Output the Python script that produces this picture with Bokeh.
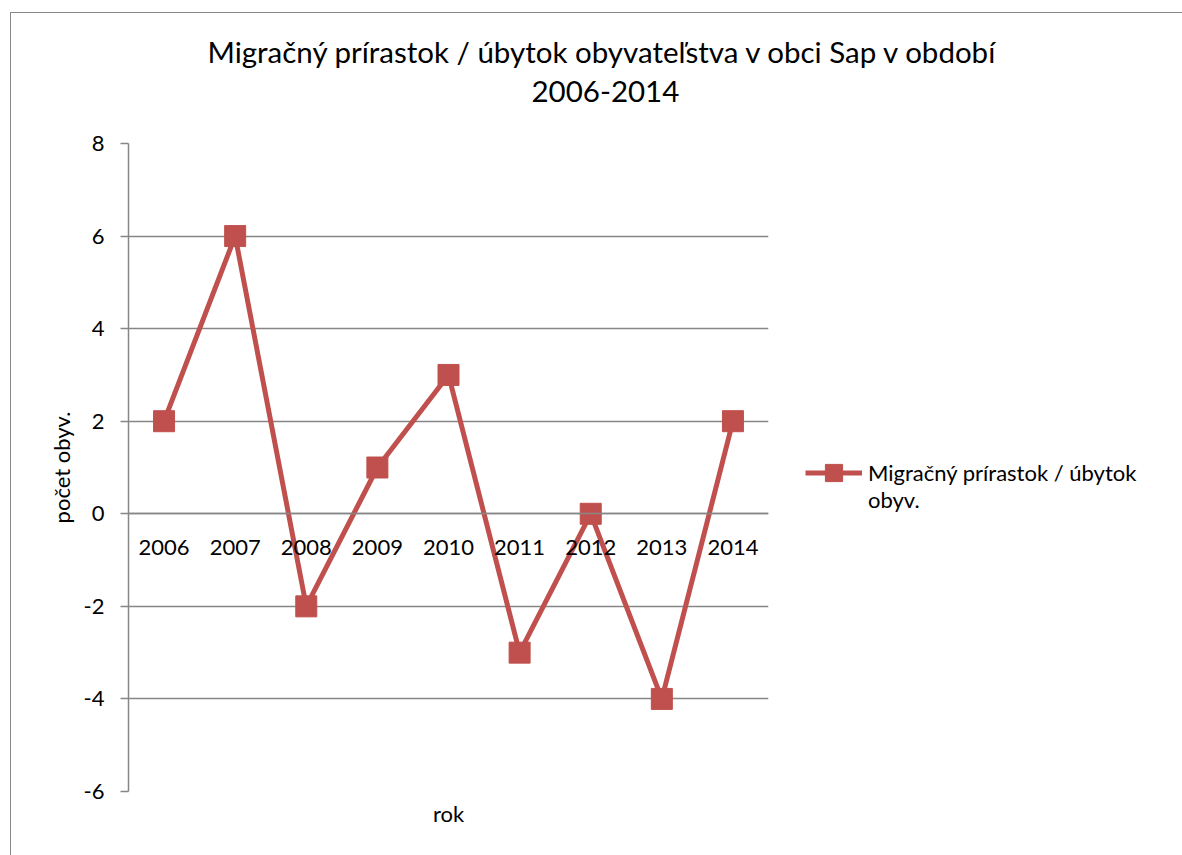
from bokeh.plotting import figure
from bokeh.models import (Range1d, FactorRange, FixedTicker, Title, Legend, LegendItem,
                          CategoricalAxis, InlineStyleSheet)
from bokeh.embed import file_html
from bokeh.resources import INLINE

# ---- data ----
years = ["2006", "2007", "2008", "2009", "2010", "2011", "2012", "2013", "2014"]
migration = [2, 6, -2, 1, 3, -3, 0, -4, 2]
y_ticks = [-6, -4, -2, 0, 2, 4, 6, 8]
title_line1 = "Migračný prírastok / úbytok obyvateľstva v obci Sap v období"
title_line2 = "2006-2014"
series_label_1 = "Migračný prírastok / úbytok"
series_label_2 = "obyv."
y_title = "počet obyv."
x_title = "rok"

FONT = "Lato"
GRID = "#868686"
RED = "#C0504D"

p = figure(frame_width=640, frame_height=648, output_backend="svg", toolbar_location=None,
           x_range=FactorRange(factors=years, range_padding=0),
           y_range=Range1d(-6, 8),
           min_border_left=128, min_border_right=414, min_border_top=143, min_border_bottom=64)
p.outline_line_color = None
p.background_fill_color = "white"
p.border_fill_color = None

# y axis
ya = p.yaxis[0]
ya.ticker = FixedTicker(ticks=y_ticks)
ya.major_label_overrides = {t: str(t) for t in y_ticks}
ya.axis_line_color = GRID
ya.axis_line_width = 1.5
ya.major_tick_line_color = GRID
ya.major_tick_line_width = 1.5
ya.major_tick_out = 8
ya.major_tick_in = 0
ya.minor_tick_line_color = None
ya.major_label_standoff = 16
ya.major_label_text_font = FONT
ya.major_label_text_font_size = "22px"
ya.major_label_text_color = "black"
ya.axis_label = y_title
ya.axis_label_text_font = FONT
ya.axis_label_text_font_size = "22px"
ya.axis_label_text_font_style = "normal"
ya.axis_label_text_color = "black"
ya.axis_label_standoff = 6

# category axis crossing at 0
xa = p.xaxis[0]
xa.fixed_location = 0
xa.axis_line_color = GRID
xa.axis_line_width = 1.5
xa.major_tick_line_color = None
xa.minor_tick_line_color = None
xa.major_label_standoff = 20
xa.major_label_text_font = FONT
xa.major_label_text_font_size = "22px"
xa.major_label_text_color = "black"

# bottom axis carrying only the title "rok"
xt = CategoricalAxis(ticker=FixedTicker(ticks=[]), axis_label=x_title,
                     axis_line_color=None, major_tick_line_color=None, minor_tick_line_color=None,
                     major_label_standoff=0, axis_label_standoff=8,
                     axis_label_text_font=FONT, axis_label_text_font_size="22px",
                     axis_label_text_font_style="normal", axis_label_text_color="black")
p.add_layout(xt, "below")

p.xgrid.grid_line_color = None
p.ygrid.grid_line_color = GRID
p.ygrid.grid_line_width = 1.5

ln = p.line(x=years, y=migration, line_color=RED, line_width=5)
sq = p.scatter(x=years, y=migration, marker="square", size=21, fill_color=RED, line_color=RED)

# wrapped legend label; the leading blank line keeps the symbol level with the first text line
legend_label = " \n" + series_label_1 + "\n" + series_label_2
legend = Legend(items=[LegendItem(label=legend_label, renderers=[ln, sq])],
                location=(37, 278), glyph_width=57, glyph_height=43, label_standoff=6,
                label_text_font=FONT, label_text_font_size="22px", label_text_line_height=1.25,
                label_text_color="black",
                border_line_color=None, background_fill_alpha=0, padding=0, margin=0)
p.add_layout(legend, "right")

# title: two centred lines stacked above the frame (first added = nearest the frame)
p.add_layout(Title(text=" ", standoff=7, text_font=FONT, text_font_size="27px"), "above")
p.add_layout(Title(text=title_line2, align="left", offset=403, standoff=0,
                   text_font=FONT, text_font_size="29.5px", text_font_style="normal",
                   text_color="black"), "above")
p.add_layout(Title(text=title_line1, align="left", offset=79, standoff=20,
                   text_font=FONT, text_font_size="29.5px", text_font_style="normal",
                   text_color="black"), "above")

# outer chart border (left and top edges visible in the reference)
p.stylesheets = [InlineStyleSheet(css=""":host { position: relative; }
:host::after { content: ''; position: absolute; left: 10px; top: 12px; right: 0; bottom: 0;
  border-left: 1px solid #868686; border-top: 1px solid #868686; pointer-events: none; z-index: 10; }""")]

open("out.html", "w").write(file_html(p, INLINE))
